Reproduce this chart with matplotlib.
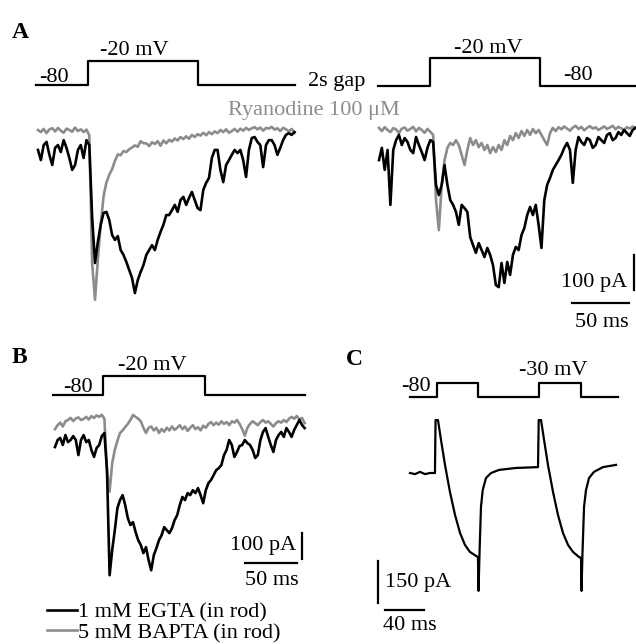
import numpy as np
import matplotlib
matplotlib.use('Agg')
import matplotlib.pyplot as plt

plt.rcParams['font.family'] = ['Liberation Serif', 'DejaVu Serif']

W, H = 636, 644
DT = 2.5
GRAY = '#8c8c8c'

# Panel A, first pulse (pA), 1 mM EGTA control (black) and ryanodine (gray)
BLACK_A1 = [-57, -86, -43, -34, -71, -100, -51, -43, -63, -29, -51, -80, -114, -100, -57, -43, -80, -29,
            -43, -250, -380, -320, -271, -237, -234, -257, -300, -314, -303, -343, -357, -377, -400, -423, -466, -429, -406, -386,
            -357, -343, -329, -343, -314, -291, -271, -243, -243, -229, -214, -234, -200, -191, -214, -194, -177, -200, -223, -229,
            -171, -151, -137, -80, -57, -57, -114, -149, -100, -86, -71, -57, -66, -57, -86, -134, -57, -23, -20, -34,
            -43, -106, -43, -29, -29, -43, -71, -51, -29, -14, -9, -14, -6]
GRAY_A1 = [0, -6, 3, -9, 2, 5, -4, 6, -2, -8, 4, 0, -5, 7, -3, 2, -6, 1,
           -15, -380, -485, -370, -270, -190, -150, -128, -112, -88, -70, -72, -60, -63, -55, -50, -44, -48, -32, -38,
           -38, -46, -35, -40, -32, -45, -30, -38, -28, -33, -24, -30, -20, -26, -18, -25, -14, -20, -12, -16,
           -8, -15, -6, -12, -4, -9, 0, -6, 2, -8, -3, 3, -5, 4, -2, 6, 0, 5, 8, 2,
           7, -2, 6, 4, 9, 1, 5, -3, 6, 2, -4, 3, -8]

# Panel A, second pulse after 2 s gap
BLACK_A2 = [-86, -51, -114, -57, -214, -57, -29, -14, -43, -23, -34, -57, -66, -20, -43, -63, -86, -51, -29,
            -34, -157, -186, -157, -100, -157, -200, -214, -234, -271, -214, -223, -234, -306, -329, -351, -323, -343, -363, -337,
            -357, -386, -443, -449, -380, -437, -377, -414, -357, -334, -343, -300, -280, -243, -220, -243, -214, -271, -337, -200,
            -157, -137, -114, -100, -86, -71, -51, -37, -57, -151, -57, -20, -34, -43, -23, -29, -51, -43, -20, -29,
            -37, -14, -9, -29, -23, -6, -14, 0, -9, -17, 0, 6]
GRAY_A2 = [6, -3, 8, 0, -6, 5, 2, -9, 4, 7, -2, 3, 9, -4, 6, 0, -8, 3, -5,
           -14, -200, -286, -157, -86, -51, -37, -43, -29, -43, -71, -100, -57, -23, -43, -29, -49, -37, -57, -43,
           -66, -49, -63, -43, -57, -29, -43, -17, -29, -9, -23, -3, -17, 0, -14, 3, -9, 0, -14, -29,
           -43, -9, 6, -3, 8, 2, 10, 4, -2, 7, 12, 3, 9, -1, 6, 11, 4, 8, 0, 5,
           10, 3, 7, 12, 2, 9, 5, 0, 8, 4, 10, 6]

# Panel B: 1 mM EGTA (black) vs 5 mM BAPTA (gray)
BLACK_B = [-104, -77, -69, -96, -58, -85, -77, -62, -77, -135, -77, -58, -85, -77, -115, -142, -108, -96, -62, -50,
           -193, -597, -500, -424, -339, -308, -289, -327, -377, -404, -393, -431, -462, -481, -512, -489, -539, -578, -520, -493,
           -462, -443, -412, -424, -435, -416, -385, -366, -327, -296, -308, -281, -289, -270, -281, -262, -289, -320, -270, -243,
           -231, -212, -193, -185, -173, -135, -115, -77, -96, -142, -123, -100, -96, -77, -89, -96, -115, -146, -135, -77,
           -46, -31, -65, -96, -123, -77, -58, -46, -65, -31, -46, -65, -38, -19, 0, -19, -31]
GRAY_B = [-35, -20, -10, -25, -5, 0, 8, -4, 6, 10, 0, 4, 12, 2, 15, 8, 18, 12, 20, 5,
          -200, -275, -166, -115, -80, -50, -40, -27, -15, 0, 19, 12, 5, -5, -30, -50, -30, -25, -40, -30,
          -50, -35, -45, -30, -40, -25, -38, -30, -20, -35, -25, -42, -30, -20, -35, -28, -40, -22, -30, -15,
          -8, -20, -10, -18, -5, -15, -8, -20, -5, -10, 0, -15, -35, -60, -30, -15, -5, -12, -20, -8,
          0, -10, -5, -15, -25, -12, -5, -10, 0, -8, 5, 12, 5, 15, 2, 8, -12]

# Panel C: paired pulses to -30 mV
C_T = [0, 5.1, 10.3, 15.4, 20.5, 25.6, 26.2, 28.7, 31.8, 35.9, 41.0, 46.2, 51.3, 56.4, 61.5, 67.7, 69.7, 70.3,
       71.3, 72.8, 74.6, 77.9, 83.1, 91.3, 108.7, 131.3, 132.0, 134.4, 137.5, 141.5, 146.7, 151.8, 156.9, 162.1,
       167.2, 173.3, 175.4, 175.9, 176.9, 178.5, 180.5, 183.6, 188.7, 197.9, 211.3]
C_I = [0, -4, 4, -4, 0, 0, 189, 189, 118, 29, -68, -150, -214, -257, -282, -296, -300, -421,
       -286, -121, -61, -18, 0, 11, 18, 21, 189, 189, 118, 29, -68, -150, -214, -257,
       -282, -300, -303, -421, -286, -121, -61, -18, 4, 21, 29]

# voltage commands (ms, mV)
CMD_A1_T = [-1.75, 43.5, 140.5, 225.4]
CMD_A2_T = [-0.9, 44.7, 141.2, 225.4]
CMD_B_T = [-1.9, 46.2, 144.2, 240.4]
CMD_ABV = [-80, -20, -80, -80]
CMD_C_T = [0, 27.7, 69.7, 132.0, 175.0, 213.0]
CMD_C_V = [-80, -30, -80, -30, -80, -80]

LEGEND_LABELS = ['1 mM EGTA (in rod)', '5 mM BAPTA (in rod)']

fig = plt.figure(figsize=(W / 100, H / 100), dpi=100)


def add_ax(box, cal, y_ref=0.0):
    # box in pixels (left, top, right, bottom); cal = (x_org, px/unit, y_org, px/unit)
    left, top, right, bottom = box
    x_org, xs, y_org, ys = cal
    ax = fig.add_axes([left / W, 1 - bottom / H, (right - left) / W, (bottom - top) / H])
    ax.set_xlim((left - x_org) / xs, (right - x_org) / xs)
    ax.set_ylim(y_ref + (y_org - bottom) / ys, y_ref + (y_org - top) / ys)
    ax.axis('off')
    return ax


def scalebar(ax, cal, px, py, dt=None, di=None):
    x_org, xs, y_org, ys = cal
    x = (px - x_org) / xs
    y = (y_org - py) / ys
    if dt:
        ax.plot([x, x + dt], [y, y], color='k', lw=1.6, clip_on=False)
    if di:
        ax.plot([x, x], [y, y + di], color='k', lw=1.6, clip_on=False)


def label(x, y, s, size=16, **kw):
    fig.text(x / W, 1 - y / H, s, fontsize=size, va='baseline', ha='left', **kw)


def trace(ax, vals, color):
    t = np.arange(len(vals)) * DT
    return ax.plot(t, vals, color=color, lw=1.9, clip_on=False)[0]


# ---- A ----
cal_a1 = (38, 1.14, 130, 0.35)
ax = add_ax((30, 100, 305, 320), cal_a1)
trace(ax, GRAY_A1, GRAY)
trace(ax, BLACK_A1, 'k')
ax = add_ax((30, 50, 305, 95), (38, 1.14, 85, 0.408), -80)
ax.plot(CMD_A1_T, CMD_ABV, drawstyle='steps-post', color='k', lw=1.6, clip_on=False)

cal_a2 = (379, 1.14, 130, 0.35)
ax = add_ax((370, 100, 636, 320), cal_a2)
trace(ax, GRAY_A2, GRAY)
trace(ax, BLACK_A2, 'k')
scalebar(ax, cal_a2, 634, 290, di=100)
scalebar(ax, cal_a2, 572, 303, dt=50)
ax = add_ax((370, 50, 636, 95), (379, 1.14, 86, 0.467), -80)
ax.plot(CMD_A2_T, CMD_ABV, drawstyle='steps-post', color='k', lw=1.6, clip_on=False)

label(12, 38, 'A', size=17, fontweight='bold')
label(39, 82, '-80')
label(100, 55, '-20 mV')
label(308, 86, '2s gap')
label(228, 115, 'Ryanodine 100 \u03bcM', color=GRAY)
label(454, 53, '-20 mV')
label(563, 80, '-80')
label(561, 287, '100 pA')
label(575, 327, '50 ms')

# ---- B ----
cal_b = (55, 1.04, 420, 0.26)
ax_b = add_ax((45, 400, 310, 600), cal_b)
lg = trace(ax_b, GRAY_B, GRAY)
lb = trace(ax_b, BLACK_B, 'k')
scalebar(ax_b, cal_b, 302, 559, di=100)
scalebar(ax_b, cal_b, 245, 563, dt=50)
ax = add_ax((45, 365, 310, 400), (55, 1.04, 395, 0.317), -80)
ax.plot(CMD_B_T, CMD_ABV, drawstyle='steps-post', color='k', lw=1.6, clip_on=False)

label(12, 363, 'B', size=17, fontweight='bold')
label(63, 392, '-80')
label(118, 370, '-20 mV')
label(230, 550, '100 pA')
label(245, 585, '50 ms')
fig.legend([lb, lg], LEGEND_LABELS, loc='upper left', bbox_to_anchor=(47 / W, 1 - 602 / H),
           frameon=False, fontsize=16, handlelength=1.35, handletextpad=0.05,
           labelspacing=0.0, borderpad=0, borderaxespad=0)

# ---- C ----
cal_c = (410, 0.975, 473, 0.28)
ax = add_ax((370, 405, 625, 615), cal_c)
ax.plot(C_T, C_I, color='k', lw=1.6, clip_on=False)
scalebar(ax, cal_c, 378, 603, di=150)
scalebar(ax, cal_c, 385, 610, dt=40)
ax = add_ax((400, 375, 625, 402), (410, 0.975, 397, 0.28), -80)
ax.plot(CMD_C_T, CMD_C_V, drawstyle='steps-post', color='k', lw=1.6, clip_on=False)

label(346, 365, 'C', size=17, fontweight='bold')
label(401, 391, '-80')
label(519, 375, '-30 mV')
label(385, 587, '150 pA')
label(383, 630, '40 ms')

fig.savefig('out.png', dpi=100)
